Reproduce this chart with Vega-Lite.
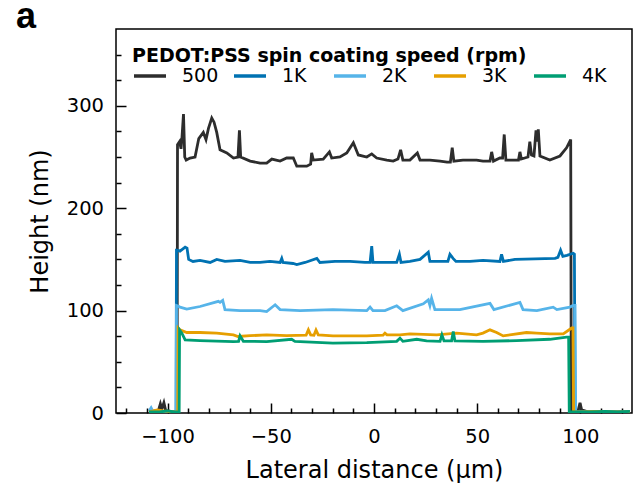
{
"$schema": "https://vega.github.io/schema/vega-lite/v6.json",
"width": 516, "height": 384,
"autosize": {"type": "none"},
"padding": {"left": 116, "top": 29, "right": 2, "bottom": 71},
"background": "white",
"title": {"text": "a", "anchor": "start", "frame": "group", "orient": "top", "font": "Liberation Sans", "fontSize": 36, "fontWeight": "bold", "color": "#000", "baseline": "alphabetic", "offset": 2, "dx": -100, "dy": 37},
"config": {"view": {"stroke": "#000", "strokeWidth": 1.5}, "font": "DejaVu Sans"},
"datasets": {
"profiles": [
{"s":"500","x":-109,"y":1},{"s":"500","x":-106,"y":2},{"s":"500","x":-104.5,"y":2},{"s":"500","x":-103.5,"y":9},{"s":"500","x":-102.8,"y":4},{"s":"500","x":-101.8,"y":10},{"s":"500","x":-101,"y":3},{"s":"500","x":-100,"y":2},{"s":"500","x":-97,"y":1},{"s":"500","x":-95.4,"y":1},{"s":"500","x":-95.2,"y":262},{"s":"500","x":-94.2,"y":265},{"s":"500","x":-93.5,"y":258},{"s":"500","x":-93,"y":270},{"s":"500","x":-92.3,"y":292},{"s":"500","x":-91.7,"y":250},{"s":"500","x":-91,"y":247},{"s":"500","x":-89.1,"y":249},{"s":"500","x":-86.7,"y":250},{"s":"500","x":-84.9,"y":268},{"s":"500","x":-82.7,"y":274},{"s":"500","x":-81.4,"y":267},{"s":"500","x":-80.2,"y":278},{"s":"500","x":-78.6,"y":288},{"s":"500","x":-77.5,"y":284},{"s":"500","x":-76.2,"y":274},{"s":"500","x":-74.6,"y":257},{"s":"500","x":-71.3,"y":254},{"s":"500","x":-68.1,"y":249},{"s":"500","x":-65.9,"y":250},{"s":"500","x":-65.2,"y":276},{"s":"500","x":-64.6,"y":250},{"s":"500","x":-60,"y":246},{"s":"500","x":-55.2,"y":244},{"s":"500","x":-52,"y":244},{"s":"500","x":-49.5,"y":248},{"s":"500","x":-45.5,"y":246},{"s":"500","x":-42.3,"y":249},{"s":"500","x":-39.1,"y":249},{"s":"500","x":-37.4,"y":241},{"s":"500","x":-32.6,"y":241},{"s":"500","x":-30.7,"y":243},{"s":"500","x":-30.2,"y":254},{"s":"500","x":-29.4,"y":247},{"s":"500","x":-24.6,"y":248},{"s":"500","x":-21.6,"y":255},{"s":"500","x":-20.5,"y":249},{"s":"500","x":-16.5,"y":250},{"s":"500","x":-13.2,"y":254},{"s":"500","x":-10,"y":264},{"s":"500","x":-7.6,"y":252},{"s":"500","x":-3.5,"y":250},{"s":"500","x":-1.1,"y":253},{"s":"500","x":1.3,"y":249},{"s":"500","x":6.2,"y":247},{"s":"500","x":9.3,"y":246},{"s":"500","x":11.6,"y":248},{"s":"500","x":12.9,"y":257},{"s":"500","x":14,"y":247},{"s":"500","x":17.4,"y":247},{"s":"500","x":21,"y":254},{"s":"500","x":22.3,"y":247},{"s":"500","x":27.1,"y":247},{"s":"500","x":32,"y":246},{"s":"500","x":35.4,"y":245},{"s":"500","x":37,"y":245},{"s":"500","x":37.9,"y":259},{"s":"500","x":38.7,"y":246},{"s":"500","x":43.1,"y":247},{"s":"500","x":49.7,"y":247},{"s":"500","x":52.8,"y":246},{"s":"500","x":56.2,"y":246},{"s":"500","x":57,"y":255},{"s":"500","x":57.9,"y":246},{"s":"500","x":61,"y":249},{"s":"500","x":62.3,"y":249},{"s":"500","x":63.1,"y":272},{"s":"500","x":63.9,"y":247},{"s":"500","x":67.3,"y":247},{"s":"500","x":70,"y":247},{"s":"500","x":70.7,"y":255},{"s":"500","x":71.4,"y":248},{"s":"500","x":74.6,"y":250},{"s":"500","x":75.5,"y":265},{"s":"500","x":76.3,"y":252},{"s":"500","x":77.5,"y":251},{"s":"500","x":78.5,"y":276},{"s":"500","x":78.9,"y":265},{"s":"500","x":79.6,"y":277},{"s":"500","x":80.4,"y":251},{"s":"500","x":85.2,"y":247},{"s":"500","x":90.1,"y":251},{"s":"500","x":93.3,"y":259},{"s":"500","x":95.3,"y":267},{"s":"500","x":95.6,"y":2},{"s":"500","x":97,"y":1},{"s":"500","x":99,"y":3},{"s":"500","x":99.8,"y":10},{"s":"500","x":100.6,"y":3},{"s":"500","x":104,"y":1},{"s":"500","x":110,"y":1},{"s":"500","x":117,"y":1},{"s":"500","x":124,"y":1},
{"s":"1K","x":-109,"y":1},{"s":"1K","x":-105,"y":2},{"s":"1K","x":-100,"y":1},{"s":"1K","x":-97,"y":1},{"s":"1K","x":-95.9,"y":1},{"s":"1K","x":-95.7,"y":159},{"s":"1K","x":-95.3,"y":159},{"s":"1K","x":-94,"y":158},{"s":"1K","x":-91.5,"y":162},{"s":"1K","x":-90.6,"y":161},{"s":"1K","x":-89.8,"y":150},{"s":"1K","x":-87.7,"y":148},{"s":"1K","x":-84.3,"y":149},{"s":"1K","x":-79.4,"y":147},{"s":"1K","x":-76.2,"y":150},{"s":"1K","x":-72.2,"y":148},{"s":"1K","x":-64.9,"y":149},{"s":"1K","x":-60,"y":147},{"s":"1K","x":-55.2,"y":147},{"s":"1K","x":-50.4,"y":148},{"s":"1K","x":-45.5,"y":147},{"s":"1K","x":-44.7,"y":151},{"s":"1K","x":-44.1,"y":147},{"s":"1K","x":-39.2,"y":146},{"s":"1K","x":-37.4,"y":145},{"s":"1K","x":-33.4,"y":147},{"s":"1K","x":-27.7,"y":151},{"s":"1K","x":-26.2,"y":147},{"s":"1K","x":-18.9,"y":148},{"s":"1K","x":-11.6,"y":148},{"s":"1K","x":-4.4,"y":147},{"s":"1K","x":-1.9,"y":147},{"s":"1K","x":-1.1,"y":163},{"s":"1K","x":-0.5,"y":147},{"s":"1K","x":5.3,"y":147},{"s":"1K","x":11,"y":147},{"s":"1K","x":12.3,"y":155},{"s":"1K","x":13.1,"y":147},{"s":"1K","x":17.4,"y":148},{"s":"1K","x":22.3,"y":150},{"s":"1K","x":26.3,"y":157},{"s":"1K","x":27.1,"y":148},{"s":"1K","x":32,"y":148},{"s":"1K","x":35.8,"y":148},{"s":"1K","x":36.8,"y":155},{"s":"1K","x":38.3,"y":151},{"s":"1K","x":39.7,"y":148},{"s":"1K","x":46.5,"y":148},{"s":"1K","x":52.8,"y":149},{"s":"1K","x":61,"y":148},{"s":"1K","x":61.8,"y":155},{"s":"1K","x":62.7,"y":148},{"s":"1K","x":68.3,"y":150},{"s":"1K","x":78,"y":150.5},{"s":"1K","x":87.7,"y":151},{"s":"1K","x":89.1,"y":152},{"s":"1K","x":90.4,"y":159},{"s":"1K","x":91.5,"y":153},{"s":"1K","x":93.5,"y":154},{"s":"1K","x":96.5,"y":156},{"s":"1K","x":97.1,"y":155},{"s":"1K","x":97.4,"y":1},{"s":"1K","x":99,"y":1},{"s":"1K","x":105,"y":1},{"s":"1K","x":115,"y":0.5},{"s":"1K","x":124,"y":0.5},
{"s":"2K","x":-109,"y":2},{"s":"2K","x":-108,"y":5},{"s":"2K","x":-107,"y":1},{"s":"2K","x":-104,"y":1},{"s":"2K","x":-100,"y":1},{"s":"2K","x":-97,"y":1},{"s":"2K","x":-95.9,"y":1},{"s":"2K","x":-95.7,"y":105},{"s":"2K","x":-95.3,"y":104.7},{"s":"2K","x":-94,"y":103.4},{"s":"2K","x":-90.7,"y":101.4},{"s":"2K","x":-84.3,"y":104},{"s":"2K","x":-75.4,"y":109},{"s":"2K","x":-74.6,"y":108},{"s":"2K","x":-73.3,"y":110},{"s":"2K","x":-72.2,"y":101},{"s":"2K","x":-64.9,"y":100},{"s":"2K","x":-55.2,"y":100},{"s":"2K","x":-52,"y":99},{"s":"2K","x":-47.9,"y":105.7},{"s":"2K","x":-45.5,"y":101},{"s":"2K","x":-35.8,"y":100},{"s":"2K","x":-19.9,"y":101},{"s":"2K","x":-3.5,"y":100},{"s":"2K","x":-1.9,"y":103.4},{"s":"2K","x":-0.5,"y":100},{"s":"2K","x":5.3,"y":100},{"s":"2K","x":11,"y":104.7},{"s":"2K","x":14,"y":100},{"s":"2K","x":23.9,"y":106.6},{"s":"2K","x":26.3,"y":110.5},{"s":"2K","x":27.1,"y":105},{"s":"2K","x":27.9,"y":112},{"s":"2K","x":29.5,"y":101},{"s":"2K","x":41.6,"y":101},{"s":"2K","x":56.2,"y":107},{"s":"2K","x":58.1,"y":101},{"s":"2K","x":70.7,"y":108},{"s":"2K","x":72.2,"y":101},{"s":"2K","x":78.9,"y":100},{"s":"2K","x":86.8,"y":103.4},{"s":"2K","x":88.6,"y":101},{"s":"2K","x":94.9,"y":103.4},{"s":"2K","x":96.5,"y":105},{"s":"2K","x":97.4,"y":105},{"s":"2K","x":97.7,"y":1},{"s":"2K","x":100,"y":1},{"s":"2K","x":110,"y":1},{"s":"2K","x":124,"y":1},
{"s":"3K","x":-109,"y":1},{"s":"3K","x":-105,"y":3},{"s":"3K","x":-102,"y":2},{"s":"3K","x":-98,"y":1},{"s":"3K","x":-95.1,"y":1},{"s":"3K","x":-94.9,"y":83},{"s":"3K","x":-94,"y":81.2},{"s":"3K","x":-90.7,"y":78.6},{"s":"3K","x":-84.3,"y":78.6},{"s":"3K","x":-76.2,"y":78},{"s":"3K","x":-68.1,"y":76.3},{"s":"3K","x":-65.9,"y":74.7},{"s":"3K","x":-60,"y":75.5},{"s":"3K","x":-52,"y":76.3},{"s":"3K","x":-42.3,"y":75.5},{"s":"3K","x":-32.9,"y":76},{"s":"3K","x":-31.8,"y":81.2},{"s":"3K","x":-30.7,"y":76.3},{"s":"3K","x":-29.1,"y":76},{"s":"3K","x":-28.1,"y":81},{"s":"3K","x":-27,"y":76.3},{"s":"3K","x":-19.9,"y":75.3},{"s":"3K","x":-3.5,"y":75.3},{"s":"3K","x":4.4,"y":76},{"s":"3K","x":5.3,"y":78},{"s":"3K","x":6.3,"y":76.3},{"s":"3K","x":12.6,"y":76.3},{"s":"3K","x":17.4,"y":77.3},{"s":"3K","x":30.4,"y":76.3},{"s":"3K","x":40,"y":78},{"s":"3K","x":49.7,"y":76.3},{"s":"3K","x":52.8,"y":78},{"s":"3K","x":56.2,"y":81.2},{"s":"3K","x":59.4,"y":78.6},{"s":"3K","x":62.6,"y":75.3},{"s":"3K","x":73.9,"y":78.6},{"s":"3K","x":78.8,"y":78},{"s":"3K","x":85.2,"y":77.3},{"s":"3K","x":91.7,"y":77.3},{"s":"3K","x":95.8,"y":83},{"s":"3K","x":96.4,"y":83},{"s":"3K","x":96.7,"y":1},{"s":"3K","x":100,"y":1},{"s":"3K","x":108,"y":1.5},{"s":"3K","x":115,"y":1},{"s":"3K","x":124,"y":1},
{"s":"4K","x":-109,"y":1},{"s":"4K","x":-104,"y":1},{"s":"4K","x":-100,"y":2},{"s":"4K","x":-97,"y":1},{"s":"4K","x":-94.4,"y":1},{"s":"4K","x":-94.2,"y":81.2},{"s":"4K","x":-93.1,"y":78},{"s":"4K","x":-91.5,"y":71.4},{"s":"4K","x":-84.3,"y":70.7},{"s":"4K","x":-68.1,"y":69.8},{"s":"4K","x":-65.6,"y":70},{"s":"4K","x":-64.9,"y":75.3},{"s":"4K","x":-63.3,"y":70},{"s":"4K","x":-52,"y":69.8},{"s":"4K","x":-39.9,"y":72},{"s":"4K","x":-38.3,"y":70},{"s":"4K","x":-35.8,"y":69.8},{"s":"4K","x":-19.9,"y":68.2},{"s":"4K","x":-3.5,"y":68.8},{"s":"4K","x":11,"y":70},{"s":"4K","x":12.6,"y":73.1},{"s":"4K","x":14,"y":70},{"s":"4K","x":20.7,"y":72},{"s":"4K","x":25.5,"y":70.5},{"s":"4K","x":32,"y":70},{"s":"4K","x":32.9,"y":76.3},{"s":"4K","x":33.9,"y":70.5},{"s":"4K","x":37.6,"y":70.5},{"s":"4K","x":38.4,"y":79.5},{"s":"4K","x":39.2,"y":70.5},{"s":"4K","x":52.8,"y":70},{"s":"4K","x":69.1,"y":70.7},{"s":"4K","x":85.2,"y":72},{"s":"4K","x":93.3,"y":74},{"s":"4K","x":94.3,"y":74},{"s":"4K","x":94.6,"y":1},{"s":"4K","x":97,"y":1},{"s":"4K","x":105,"y":1},{"s":"4K","x":112,"y":1.5},{"s":"4K","x":118,"y":1},{"s":"4K","x":124,"y":1.5}
],
"minor": [{"x": 0, "y": 0}]
},
"layer": [
{
"data": {"name": "profiles"},
"mark": {"type": "line", "strokeWidth": 2.8, "clip": true},
"encoding": {
"x": {"field": "x", "type": "quantitative", "scale": {"domain": [-125, 125], "nice": false, "zero": false},
"axis": {"orient": "bottom", "values": [-100, -50, 0, 50, 100], "tickSize": -10, "tickWidth": 1.5, "tickColor": "#000", "domain": false, "grid": false, "labelFont": "DejaVu Sans", "labelFontSize": 19.5, "labelColor": "#000", "labelPadding": 24, "labelFlush": false, "labelOverlap": false, "title": "Lateral distance (µm)", "titleFont": "DejaVu Sans", "titleFontSize": 24, "titleFontWeight": "normal", "titleColor": "#000", "titlePadding": 13}},
"y": {"field": "y", "type": "quantitative", "scale": {"domain": [0, 375], "nice": false},
"axis": {"orient": "left", "values": [0, 100, 200, 300], "tickSize": -10, "tickWidth": 1.5, "tickColor": "#000", "domain": false, "grid": false, "labelFont": "DejaVu Sans", "labelFontSize": 19.5, "labelColor": "#000", "labelPadding": 22.5, "labelFlush": false, "labelOverlap": false, "title": "Height (nm)", "titleFont": "DejaVu Sans", "titleFontSize": 24, "titleFontWeight": "normal", "titleColor": "#000", "titlePadding": 14}},
"color": {"field": "s", "type": "nominal", "sort": null,
"scale": {"domain": ["500", "1K", "2K", "3K", "4K"], "range": ["#2d2d2d", "#0072B2", "#56B4E9", "#E69F00", "#009E73"]},
"legend": {"title": "PEDOT:PSS spin coating speed (rpm)", "orient": "none", "legendX": 16, "legendY": 18, "direction": "horizontal", "columns": 5, "gridAlign": "all", "columnPadding": 8, "padding": 0, "titleFont": "DejaVu Sans", "titleFontSize": 19, "titleFontWeight": "bold", "titleColor": "#000", "titleBaseline": "top", "titlePadding": -8, "titleLimit": 700, "labelFont": "DejaVu Sans", "labelFontSize": 19, "labelColor": "#000", "labelOffset": 14, "symbolType": "stroke", "symbolSize": 1024, "symbolStrokeWidth": 3.5}}
}
},
{
"data": {"name": "minor"},
"mark": {"type": "point", "opacity": 0},
"encoding": {
"x": {"field": "x", "type": "quantitative", "axis": {"orient": "bottom", "values": [-120, -110, -90, -80, -70, -60, -40, -30, -20, -10, 10, 20, 30, 40, 60, 70, 80, 90, 110, 120], "tickSize": -5, "tickWidth": 1.5, "tickColor": "#000", "domain": false, "grid": false, "labels": false, "title": null}},
"y": {"field": "y", "type": "quantitative", "axis": {"orient": "left", "values": [25, 50, 75, 125, 150, 175, 225, 250, 275, 325, 350], "tickSize": -5, "tickWidth": 1.5, "tickColor": "#000", "domain": false, "grid": false, "labels": false, "title": null}}
}
}
],
"resolve": {"axis": {"x": "independent", "y": "independent"}}
}
